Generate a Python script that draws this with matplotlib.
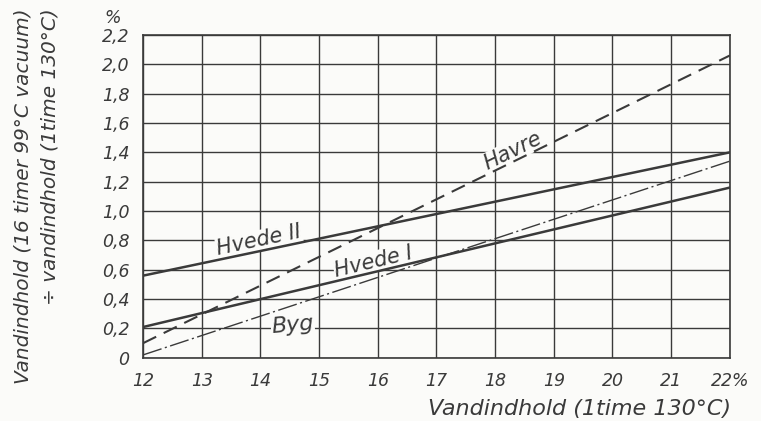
import numpy as np
import matplotlib.pyplot as plt

# moisture by 1 h 130 C method (%), line end points
x_ends = [12, 22]
havre = [0.10, 2.06]
hvede_2 = [0.56, 1.40]
hvede_1 = [0.21, 1.16]
byg = [0.02, 1.34]

x_ticks = [12, 13, 14, 15, 16, 17, 18, 19, 20, 21, 22]
x_labels = ["12", "13", "14", "15", "16", "17", "18", "19", "20", "21", "22%"]
y_ticks = [0, 0.2, 0.4, 0.6, 0.8, 1.0, 1.2, 1.4, 1.6, 1.8, 2.0, 2.2]
y_labels = ["0", "0,2", "0,4", "0,6", "0,8", "1,0", "1,2", "1,4", "1,6", "1,8", "2,0", "2,2"]

ink = "#3a3a3a"
paper = "#fbfbf9"

plt.rcParams["font.family"] = ["DejaVu Sans"]
plt.rcParams["font.style"] = "italic"

fig = plt.figure(figsize=(7.61, 4.21), dpi=100, facecolor=paper)
ax = fig.add_axes([0.188, 0.150, 0.771, 0.767], facecolor=paper)

ax.set_xlim(12, 22)
ax.set_ylim(0, 2.2)
ax.set_xticks(x_ticks)
ax.set_xticklabels(x_labels)
ax.set_yticks(y_ticks)
ax.set_yticklabels(y_labels)
ax.tick_params(length=0, pad=10, labelsize=12.5, colors=ink)
ax.grid(True, color=ink, linewidth=1.0)
ax.set_axisbelow(True)
for s in ax.spines.values():
    s.set_color(ink)
    s.set_linewidth(1.2)

ax.plot(x_ends, havre, color=ink, linewidth=1.5, linestyle=(0, (7, 4)), zorder=3)
ax.plot(x_ends, hvede_2, color=ink, linewidth=1.8, zorder=3)
ax.plot(x_ends, hvede_1, color=ink, linewidth=1.8, zorder=3)
ax.plot(x_ends, byg, color=ink, linewidth=1.0,
        linestyle=(0, (14, 2.5, 1.5, 2.5)), zorder=3)


def line_label(text, x, ys, dy, size):
    # put the label on the line at x, turned to the line's angle on screen
    y = ys[0] + (ys[1] - ys[0]) * (x - x_ends[0]) / (x_ends[1] - x_ends[0])
    p0 = ax.transData.transform((x_ends[0], ys[0]))
    p1 = ax.transData.transform((x_ends[1], ys[1]))
    ang = np.degrees(np.arctan2(p1[1] - p0[1], p1[0] - p0[0]))
    ax.text(x, y + dy, text, fontsize=size, rotation=ang, rotation_mode="anchor",
            color=ink, ha="center", va="baseline", zorder=1.5,
            bbox=dict(facecolor=paper, edgecolor="none", pad=0.5))


line_label("Havre", 18.35, havre, 0.03, 15)
line_label("Hvede II", 14.0, hvede_2, 0.03, 15)
line_label("Hvede I", 15.95, hvede_1, 0.03, 15)
ax.text(14.55, 0.22, "Byg", fontsize=16, rotation=5, color=ink,
        ha="center", va="center", zorder=1.5,
        bbox=dict(facecolor=paper, edgecolor="none", pad=0.5))

fig.text(0.148, 0.958, "%", fontsize=12.5, color=ink, ha="center", va="center")
fig.text(0.030, 0.535, "Vandindhold (16 timer 99°C vacuum)", fontsize=14.5,
         rotation=90, color=ink, ha="center", va="center")
fig.text(0.066, 0.627, "÷ vandindhold (1time 130°C)", fontsize=14.5,
         rotation=90, color=ink, ha="center", va="center")
fig.text(0.762, 0.028, "Vandindhold (1time 130°C)", fontsize=16,
         color=ink, ha="center", va="center")

fig.savefig("out.png", dpi=100, facecolor=paper)
